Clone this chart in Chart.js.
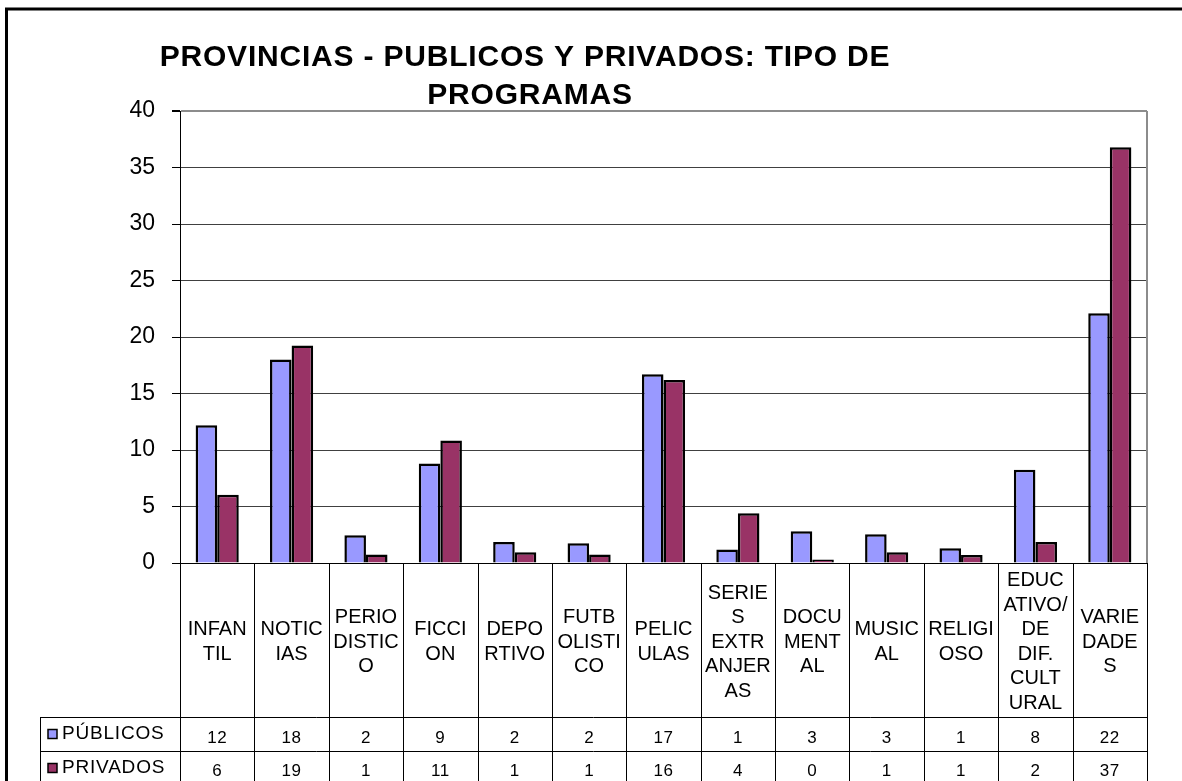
<!DOCTYPE html>
<html>
<head>
<meta charset="utf-8">
<title>Provincias - tipo de programas</title>
<script src="https://cdn.jsdelivr.net/npm/chart.js@4.4.1/dist/chart.umd.min.js"></script>
<style>
  body { margin: 0; background: #fff; }
  #wrap { position: relative; width: 1182px; height: 781px; }
</style>
</head>
<body>
<div id="wrap"><canvas id="myChart" width="1182" height="781"></canvas></div>
<script>
'use strict';

// categories, one array of lines per column (wrapped like the table header)
let categoryLines = [
    ['INFAN', 'TIL'],
    ['NOTIC', 'IAS'],
    ['PERIO', 'DISTIC', 'O'],
    ['FICCI', 'ON'],
    ['DEPO', 'RTIVO'],
    ['FUTB', 'OLISTI', 'CO'],
    ['PELIC', 'ULAS'],
    ['SERIE', 'S', 'EXTR', 'ANJER', 'AS'],
    ['DOCU', 'MENT', 'AL'],
    ['MUSIC', 'AL'],
    ['RELIGI', 'OSO'],
    ['EDUC', 'ATIVO/', 'DE', 'DIF.', 'CULT', 'URAL'],
    ['VARIE', 'DADE', 'S']
];
let seriesNames = ['PÚBLICOS', 'PRIVADOS'];

// bar heights
let publicos = [12.2, 18.0, 2.45, 8.8, 1.85, 1.75, 16.7, 1.2, 2.8, 2.55, 1.3, 8.25, 22.1];
let privados = [6.05, 19.25, 0.75, 10.85, 0.95, 0.75, 16.2, 4.4, 0.3, 0.95, 0.7, 1.85, 36.8];

// numbers printed in the data table
let publicosTable = [12, 18, 2, 9, 2, 2, 17, 1, 3, 3, 1, 8, 22];
let privadosTable = [6, 19, 1, 11, 1, 1, 16, 4, 0, 1, 1, 2, 37];

let yTicks = [0, 5, 10, 15, 20, 25, 30, 35, 40];
let colorPub = '#9999ff';
let colorPriv = '#993366';
let fontName = '"Liberation Sans", Arial, sans-serif';

let titleLines = ['PROVINCIAS - PUBLICOS Y PRIVADOS: TIPO DE', 'PROGRAMAS'];

// draws the frame, title, plot border and the data table under the axis
let tablePlugin = {
    id: 'tablePlugin',
    afterDraw: function (chart) {
        let ctx = chart.ctx;
        let area = chart.chartArea;
        let n = categoryLines.length;
        let colW = (area.right - area.left) / n;
        let headTop = area.bottom;
        let row1 = 717;
        let row2 = 751;
        let bottom = 790;

        ctx.save();

        // outer frame (left and top only in view)
        ctx.strokeStyle = '#000';
        ctx.lineWidth = 3;
        ctx.beginPath();
        ctx.moveTo(6.5, 800);
        ctx.lineTo(6.5, 9);
        ctx.lineTo(1200, 9);
        ctx.stroke();

        // right border of plot area
        ctx.strokeStyle = '#8c8c8c';
        ctx.lineWidth = 2;
        ctx.beginPath();
        ctx.moveTo(area.right, area.top);
        ctx.lineTo(area.right, area.bottom);
        ctx.stroke();

        // title
        ctx.fillStyle = '#000';
        ctx.font = 'bold 30px ' + fontName;
        ctx.letterSpacing = '0.8px';
        ctx.textAlign = 'center';
        ctx.textBaseline = 'alphabetic';
        ctx.fillText(titleLines[0], 525, 66);
        ctx.fillText(titleLines[1], 530, 104);
        ctx.letterSpacing = '0px';

        // table grid
        ctx.strokeStyle = '#000';
        ctx.lineWidth = 1;
        ctx.beginPath();
        for (let i = 0; i <= n; i++) {
            let x = Math.round(area.left + i * colW) + 0.5;
            ctx.moveTo(x, headTop);
            ctx.lineTo(x, bottom);
        }
        ctx.moveTo(40.5, row1);
        ctx.lineTo(40.5, bottom);
        ctx.moveTo(40, row1 + 0.5);
        ctx.lineTo(area.right, row1 + 0.5);
        ctx.moveTo(40, row2 + 0.5);
        ctx.lineTo(area.right, row2 + 0.5);
        ctx.stroke();

        // header text
        let xScale = chart.scales.x;
        ctx.font = '20px ' + fontName;
        ctx.fillStyle = '#000';
        ctx.textAlign = 'center';
        for (let i = 0; i < n; i++) {
            let cx = xScale.getPixelForValue(i);
            let lines = categoryLines[i];
            for (let j = 0; j < lines.length; j++) {
                let y = 647.5 + (j - (lines.length - 1) / 2) * 24.5;
                ctx.fillText(lines[j], cx, y);
            }
        }

        // values
        ctx.font = '17px ' + fontName;
        ctx.letterSpacing = '0.5px';
        for (let i = 0; i < n; i++) {
            let cx = xScale.getPixelForValue(i);
            ctx.fillText(String(publicosTable[i]), cx, 743);
            ctx.fillText(String(privadosTable[i]), cx, 776);
        }

        // legend keys
        ctx.textAlign = 'left';
        ctx.font = '19px ' + fontName;
        ctx.letterSpacing = '0.8px';
        let keys = [[colorPub, 733.5, 739], [colorPriv, 767.5, 773]];
        for (let k = 0; k < keys.length; k++) {
            ctx.fillStyle = keys[k][0];
            ctx.fillRect(48, keys[k][1] - 4, 9, 9);
            ctx.strokeStyle = '#000';
            ctx.lineWidth = 1.5;
            ctx.strokeRect(48, keys[k][1] - 4, 9, 9);
            ctx.fillStyle = '#000';
            ctx.fillText(seriesNames[k], 62, keys[k][2]);
        }
        ctx.restore();
    }
};

let ctx = document.getElementById('myChart').getContext('2d');
let chart = new Chart(ctx, {
    type: 'bar',
    data: {
        labels: categoryLines,
        datasets: [{
            label: seriesNames[0],
            data: publicos,
            backgroundColor: colorPub,
            borderColor: '#000',
            borderWidth: 2.5
        }, {
            label: seriesNames[1],
            data: privados,
            backgroundColor: colorPriv,
            borderColor: '#000',
            borderWidth: 2.5
        }]
    },
    options: {
        responsive: false,
        animation: false,
        events: [],
        categoryPercentage: 0.58,
        barPercentage: 1.0,
        layout: { padding: { top: 111, left: 0, right: 35, bottom: 218 } },
        plugins: {
            legend: { display: false },
            title: { display: false },
            tooltip: { enabled: false }
        },
        scales: {
            x: {
                display: false
            },
            y: {
                min: 0,
                max: 40,
                afterBuildTicks: function (scale) {
                    scale.ticks = yTicks.map(function (v) { return { value: v }; });
                },
                afterFit: function (scale) { scale.width = 180; },
                ticks: {
                    color: '#000',
                    padding: 17,
                    font: { family: fontName, size: 23 }
                },
                grid: {
                    tickLength: 8,
                    tickColor: '#000',
                    color: function (c) {
                        if (c.tick && c.tick.value === 0) return '#000';
                        if (c.tick && c.tick.value === 40) return '#8c8c8c';
                        return '#404040';
                    },
                    lineWidth: function (c) {
                        if (c.tick && c.tick.value === 40) return 2;
                        return 1;
                    }
                },
                border: { color: '#000', width: 1 }
            }
        }
    },
    plugins: [tablePlugin]
});
</script>
</body>
</html>
